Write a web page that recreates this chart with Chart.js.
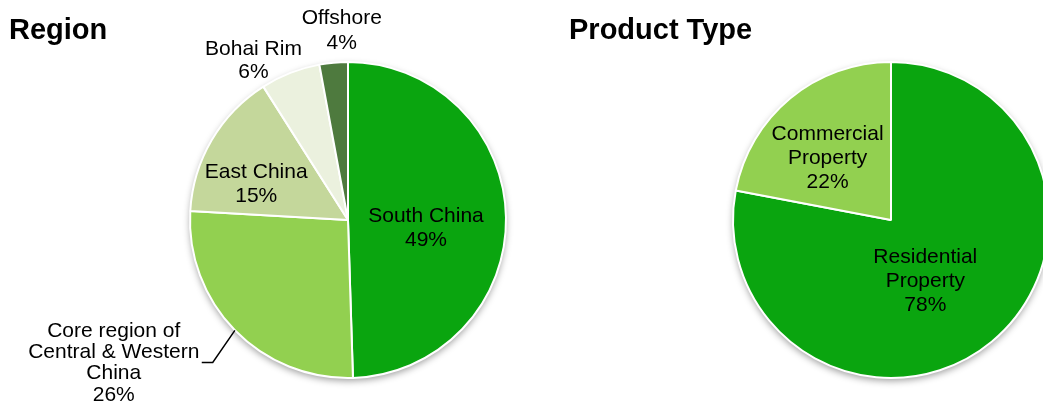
<!DOCTYPE html>
<html><head><meta charset="utf-8">
<script src="https://cdn.jsdelivr.net/npm/chart.js@4/dist/chart.umd.min.js"></script>
<style>
html,body{margin:0;padding:0;background:#fff;overflow:hidden;width:1043px;height:405px;position:relative;}
.t{position:absolute;font:bold 29px "Liberation Sans",Arial,sans-serif;color:#000;line-height:29px;white-space:nowrap;}
canvas{position:absolute;top:0;}
</style></head><body>
<canvas id="c1" width="540" height="405" style="left:0"></canvas>
<canvas id="c2" width="520" height="405" style="left:540px"></canvas>
<div class="t" style="left:9px;top:15px">Region</div>
<div class="t" style="left:569px;top:15px">Product Type</div>
<script>
// ---- data ----
const regionCategories = ['South China', 'Core region of Central & Western China', 'East China', 'Bohai Rim', 'Offshore'];
const regionValues = [49.5, 26.4, 15.1, 6.1, 2.9];
// percentages as printed on the chart
const regionPercentLabels = ['49%', '26%', '15%', '6%', '4%'];
const regionLabelLines = [['South China'], ['Core region of', 'Central & Western', 'China'], ['East China'], ['Bohai Rim'], ['Offshore']];
const regionColors = ['#0AA50F', '#92D050', '#C4D79B', '#EBF1DE', '#4E7A3E'];

const productCategories = ['Residential Property', 'Commercial Property'];
const productValues = [78, 22];
const productPercentLabels = ['78%', '22%'];
const productLabelLines = [['Residential', 'Property'], ['Commercial', 'Property']];
const productColors = ['#0AA50F', '#92D050'];

// ---- label placement (style only) ----
const regionPlacement = [
  {f: 0.5, dx: -1, dy: 9, lh: 24},
  {f: 1.735, dx: -38, dy: -48.6, lh: 21.3, leader: {ex: 99, ey: -0.5, tx: 88}},
  {f: 0.62, dx: -7.3, dy: 14.3, lh: 24},
  {f: 1.17, dx: -27, dy: 13, lh: 23},
  {f: 1.2, dx: 11, dy: 0, lh: 25}
];
const productPlacement = [
  {f: 0.44, dx: -10, dy: 7.5, lh: 24},
  {f: 0.56, dx: -7, dy: 6.5, lh: 24}
];

const FONT = '21px "Liberation Sans", Arial, sans-serif';

const pieLabels = {
  id: 'pieLabels',
  beforeDatasetsDraw(chart) {
    const a = chart.getDatasetMeta(0).data[0];
    const ctx = chart.ctx;
    ctx.save();
    ctx.shadowColor = 'rgba(0,0,0,0.38)';
    ctx.shadowBlur = 7;
    ctx.shadowOffsetY = 3;
    ctx.beginPath();
    ctx.arc(a.x, a.y, a.outerRadius, 0, Math.PI * 2);
    ctx.fillStyle = '#fff';
    ctx.fill();
    ctx.restore();
  },
  afterDatasetsDraw(chart, args, opts) {
    const meta = chart.getDatasetMeta(0);
    const ctx = chart.ctx;
    ctx.save();
    ctx.font = FONT;
    ctx.fillStyle = '#000';
    ctx.textAlign = 'center';
    ctx.textBaseline = 'middle';
    meta.data.forEach((arc, i) => {
      const p = opts.placement[i];
      const mid = (arc.startAngle + arc.endAngle) / 2;
      const R = arc.outerRadius * p.f;
      const x = arc.x + Math.cos(mid) * R + p.dx;
      const y = arc.y + Math.sin(mid) * R + p.dy;
      const lines = opts.lines[i].concat([opts.pct[i]]);
      lines.forEach((t, k) => ctx.fillText(t, x, y + (k - (lines.length - 1) / 2) * p.lh));
      if (p.leader) {
        const sx = arc.x + Math.cos(mid) * arc.outerRadius;
        const sy = arc.y + Math.sin(mid) * arc.outerRadius;
        const ly = Math.round(y + p.leader.ey) + 0.5;
        ctx.beginPath();
        ctx.moveTo(sx, sy);
        ctx.lineTo(x + p.leader.ex, ly);
        ctx.lineTo(x + p.leader.tx, ly);
        ctx.strokeStyle = '#000';
        ctx.lineWidth = 1.5;
        ctx.stroke();
      }
    });
    ctx.restore();
  }
};

function makePie(id, cats, vals, colors, lines, pct, placement, padding) {
  return new Chart(document.getElementById(id), {
    type: 'pie',
    data: {
      labels: cats,
      datasets: [{data: vals, backgroundColor: colors, borderColor: '#fff', borderWidth: 2, hoverOffset: 0}]
    },
    options: {
      responsive: false,
      animation: false,
      events: [],
      layout: {padding: padding},
      plugins: {
        legend: {display: false},
        tooltip: {enabled: false},
        title: {display: false},
        pieLabels: {lines: lines, pct: pct, placement: placement}
      }
    },
    plugins: [pieLabels]
  });
}

makePie('c1', regionCategories, regionValues, regionColors, regionLabelLines, regionPercentLabels, regionPlacement,
  {left: 189, top: 61, right: 33, bottom: 26});
makePie('c2', productCategories, productValues, productColors, productLabelLines, productPercentLabels, productPlacement,
  {left: 192, top: 61, right: 10, bottom: 26});
</script>
</body></html>
